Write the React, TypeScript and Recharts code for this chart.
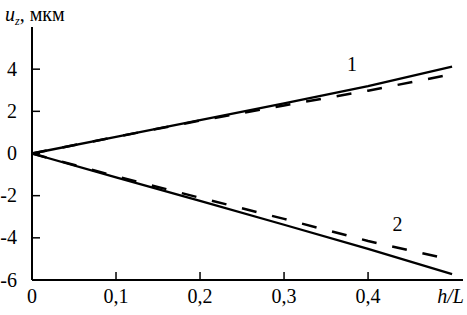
import React from 'react';
import { LineChart, Line, XAxis, YAxis, Label, ReferenceDot } from 'recharts';

// h/L values along the x axis
const hL = [0, 0.1, 0.2, 0.3, 0.4, 0.5];
// u_z, мкм — curve 1 (solid / dashed) and curve 2 (solid / dashed)
const uz1Solid = [0, 0.79, 1.58, 2.38, 3.2, 4.12];
const uz1Dashed = [0, 0.79, 1.56, 2.28, 2.98, 3.76];
const uz2Solid = [0, -1.13, -2.25, -3.38, -4.52, -5.72];
const uz2Dashed = [0, -1.08, -2.1, -3.1, -4.15, -5.05];

const xTicks = [0, 0.1, 0.2, 0.3, 0.4];
const yTicks = [-6, -4, -2, 0, 2, 4];

const FONT = '"Liberation Serif", "Times New Roman", serif';

const data = hL.map((h, i) => ({
  h,
  s1: uz1Solid[i],
  d1: uz1Dashed[i],
  s2: uz2Solid[i],
  d2: uz2Dashed[i],
}));

// ticks point inward, so draw the tick mark together with the label
const X_MARGIN = 23;
const Y_MARGIN = 15;

function XTick(props: any) {
  const { x, y, payload } = props;
  const axisY = y - X_MARGIN;
  return (
    <g>
      {payload.value !== 0 && (
        <line x1={x} x2={x} y1={axisY} y2={axisY - 8} stroke="#000" strokeWidth={1.5} />
      )}
      <text x={x} y={y} textAnchor="middle" fontFamily={FONT} fontSize={20} fill="#000">
        {String(payload.value).replace('.', ',')}
      </text>
    </g>
  );
}

function YTick(props: any) {
  const { x, y, payload } = props;
  const axisX = x + Y_MARGIN;
  return (
    <g>
      <line x1={axisX} x2={axisX + 8} y1={y} y2={y} stroke="#000" strokeWidth={1.5} />
      <text x={x} y={y} dy={6.5} textAnchor="end" fontFamily={FONT} fontSize={20} fill="#000">
        {payload.value}
      </text>
    </g>
  );
}

export default function App() {
  return (
    <div style={{ position: 'absolute', left: 0, top: 0, background: '#fff' }}>
      <LineChart
        width={467}
        height={315}
        data={data}
        margin={{ top: 27, right: 4, bottom: 0, left: 0 }}
      >
        <XAxis
          dataKey="h"
          type="number"
          domain={[0, 0.513]}
          ticks={xTicks}
          tickSize={0}
          tickMargin={X_MARGIN}
          tick={<XTick />}
          height={35}
          axisLine={{ stroke: '#000', strokeWidth: 2 }}
        >
          <Label
            content={(p: any) => {
              const vb = p.viewBox;
              return (
                <text
                  x={vb.x + vb.width + 1}
                  y={vb.y + X_MARGIN}
                  textAnchor="end"
                  fontFamily={FONT}
                  fontSize={20}
                  fontStyle="italic"
                  fill="#000"
                >
                  h/L
                </text>
              );
            }}
          />
        </XAxis>
        <YAxis
          type="number"
          domain={[-6, 6]}
          ticks={yTicks}
          width={32}
          tickSize={0}
          tickMargin={Y_MARGIN}
          tick={<YTick />}
          axisLine={{ stroke: '#000', strokeWidth: 2 }}
        >
          <Label
            content={(p: any) => {
              const vb = p.viewBox;
              return (
                <text x={vb.x + 5} y={vb.y - 6} fontFamily={FONT} fontSize={20} fill="#000">
                  <tspan fontStyle="italic">u</tspan>
                  <tspan fontStyle="italic" fontSize={12} dy={4}>z</tspan>
                  <tspan dy={-4}>, мкм</tspan>
                </text>
              );
            }}
          />
        </YAxis>
        <Line dataKey="s1" stroke="#000" strokeWidth={2.3} dot={false} activeDot={false} isAnimationActive={false} />
        <Line dataKey="d1" stroke="#000" strokeWidth={2.5} strokeDasharray="15 16" dot={false} activeDot={false} isAnimationActive={false} />
        <Line dataKey="s2" stroke="#000" strokeWidth={2.3} dot={false} activeDot={false} isAnimationActive={false} />
        <Line dataKey="d2" stroke="#000" strokeWidth={2.5} strokeDasharray="15 16" dot={false} activeDot={false} isAnimationActive={false} />
        <ReferenceDot
          x={0.381}
          y={4.24}
          r={0}
          label={{ value: '1', position: 'center', fontFamily: FONT, fontSize: 20, fill: '#000' }}
        />
        <ReferenceDot
          x={0.435}
          y={-3.33}
          r={0}
          label={{ value: '2', position: 'center', fontFamily: FONT, fontSize: 20, fill: '#000' }}
        />
      </LineChart>
    </div>
  );
}
